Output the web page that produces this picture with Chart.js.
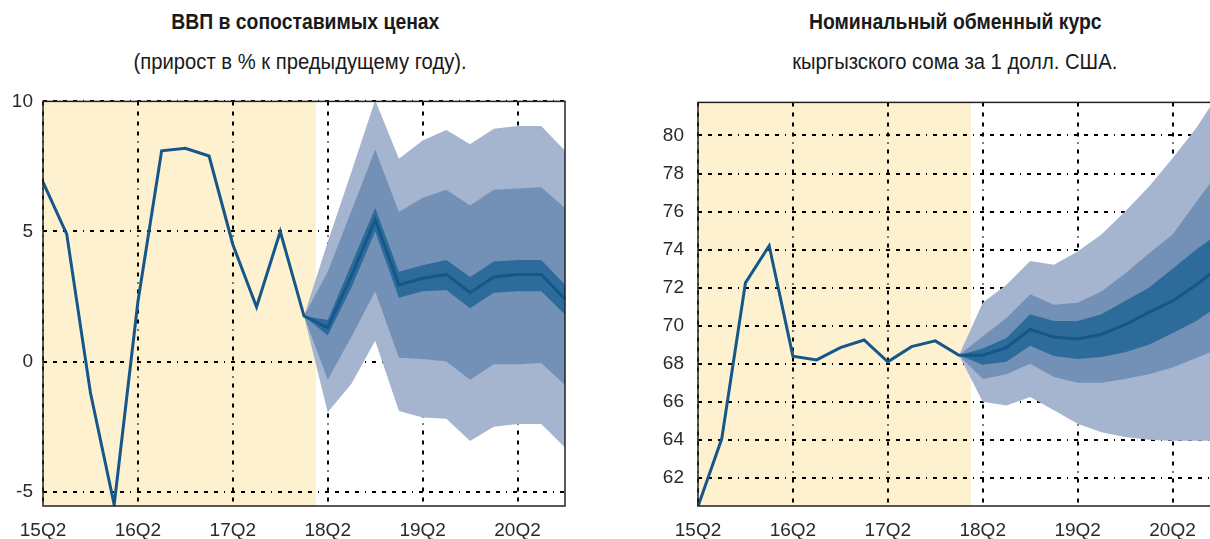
<!DOCTYPE html>
<html>
<head>
<meta charset="utf-8">
<script src="https://cdn.jsdelivr.net/npm/chart.js@4.4.1/dist/chart.umd.min.js"></script>
<style>
    body { margin: 0; width: 1210px; height: 539px; overflow: hidden; background: #fff; position: relative; }
    .ttl { position: absolute; width: 600px; text-align: center; color: #1a1a1a;
           font-family: "Liberation Sans", Arial, sans-serif; font-size: 22px; line-height: 26px; }
    .ttl span { display: inline-block; transform-origin: center; white-space: nowrap; }
    .ttl b { font-weight: bold; }
    .main span { transform: scaleX(0.88); }
    .sub span { transform: scaleX(0.92); }
    .box { position: absolute; }
</style>
</head>
<body>
<div class="ttl main" style="left:5px; top:9px;"><span><b>ВВП в сопоставимых ценах</b></span></div>
<div class="ttl sub" style="left:0px; top:49px;"><span>(прирост в % к предыдущему году).</span></div>
<div class="ttl main" style="left:655px; top:9px;"><span><b>Номинальный обменный курс</b></span></div>
<div class="ttl sub" style="left:655px; top:49px;"><span>кыргызского сома за 1 долл. США.</span></div>

<div class="box" style="left:0px; top:80px;"><canvas id="gdpChart" width="580" height="459"></canvas></div>
<div class="box" style="left:640px; top:77px;"><canvas id="fxChart" width="600" height="462"></canvas></div>

<script>
var quarters = ['15Q2', '15Q3', '15Q4', '16Q1', '16Q2', '16Q3', '16Q4', '17Q1', '17Q2', '17Q3', '17Q4', '18Q1',
    '18Q2', '18Q3', '18Q4', '19Q1', '19Q2', '19Q3', '19Q4', '20Q1', '20Q2', '20Q3', '20Q4'];
var lastFact = 11; // 18Q1 - last actual quarter, forecast fan starts here

// ВВП, % г/г
var gdpLine = [6.9, 4.9, -1.2, -5.5, 2.3, 8.1, 8.2, 7.9, 4.5, 2.1, 5.0, 1.75,
    1.3, 3.3, 5.45, 2.95, 3.2, 3.35, 2.65, 3.25, 3.35, 3.35, 2.4];
var gdpTicks = [-5, 0, 5, 10];
// fan bands 18Q1..20Q4
var gdpInnerHi = [1.75, 1.6, 3.75, 5.9, 3.45, 3.7, 3.9, 3.25, 3.85, 3.9, 3.9, 2.95];
var gdpInnerLo = [1.75, 1.0, 2.85, 5.0, 2.45, 2.7, 2.75, 2.05, 2.65, 2.7, 2.7, 1.8];
var gdpMidHi = [1.75, 3.45, 5.8, 8.15, 5.75, 6.3, 6.6, 6.0, 6.6, 6.65, 6.7, 5.9];
var gdpMidLo = [1.75, -0.7, 0.95, 2.7, 0.15, 0.1, 0.0, -0.7, -0.1, -0.1, -0.05, -0.9];
var gdpOuterHi = [1.75, 4.6, 7.3, 10.05, 7.8, 8.5, 8.9, 8.35, 8.95, 9.05, 9.05, 8.1];
var gdpOuterLo = [1.75, -1.95, -0.85, 0.8, -1.9, -2.15, -2.2, -3.05, -2.5, -2.4, -2.4, -3.3];

// курс сом/долл.
var fxLine = [60.5, 64.05, 72.25, 74.2, 68.4, 68.2, 68.85, 69.25, 68.1, 68.9, 69.2, 68.45,
    68.45, 68.85, 69.8, 69.4, 69.3, 69.55, 70.05, 70.7, 71.3, 72.15, 73.1];
var fxTicks = [62, 64, 66, 68, 70, 72, 74, 76, 78, 80];
var fxInnerHi = [68.45, 68.8, 69.35, 70.6, 70.25, 70.25, 70.6, 71.3, 72.0, 73.0, 74.0, 74.9];
var fxInnerLo = [68.45, 67.95, 68.1, 68.95, 68.4, 68.25, 68.35, 68.6, 69.0, 69.6, 70.25, 71.1];
var fxMidHi = [68.45, 69.45, 70.4, 71.65, 71.1, 71.2, 71.8, 72.75, 73.8, 74.8, 76.5, 78.2];
var fxMidLo = [68.45, 67.2, 67.45, 68.0, 67.3, 67.0, 67.0, 67.2, 67.45, 67.8, 68.3, 68.8];
var fxOuterHi = [68.45, 71.2, 72.15, 73.4, 73.2, 73.9, 74.8, 76.0, 77.3, 78.8, 80.4, 82.3];
var fxOuterLo = [68.45, 66.0, 65.8, 66.25, 65.55, 64.85, 64.4, 64.15, 64.0, 63.95, 63.95, 63.95];

var lightBlue = '#a5b5d0', midBlue = '#7391b7', darkBlue = '#2d6b9b', lineBlue = '#15578a';

function pad(arr) {
    // put fan values on the quarter axis, empty before 18Q1
    var out = [];
    for (var i = 0; i < lastFact; i++) out.push(null);
    return out.concat(arr);
}

function band(data, color, fillIt) {
    return {
        data: pad(data),
        borderColor: 'transparent',
        borderWidth: 0,
        backgroundColor: color,
        pointRadius: 0,
        fill: fillIt ? '+1' : false
    };
}

// yellow "history" area + frame around the plot
var framePlugin = {
    id: 'frame',
    beforeDraw: function (chart) {
        var a = chart.chartArea, x = chart.scales.x, c = chart.ctx;
        var edge = (x.getPixelForValue(lastFact) + x.getPixelForValue(lastFact + 1)) / 2;
        c.save();
        c.fillStyle = '#fdf1cf';
        c.fillRect(a.left, a.top, edge - a.left, a.bottom - a.top);
        c.restore();
    },
    afterDraw: function (chart) {
        var a = chart.chartArea, c = chart.ctx;
        c.save();
        c.strokeStyle = '#222';
        c.lineWidth = 1.5;
        c.strokeRect(a.left, a.top, a.right - a.left, a.bottom - a.top);
        c.restore();
    }
};

function makeChart(id, line, ticks, lo, hi, bands, yWidth, yPad, padRight) {
    var gridDash = [4, 6, 4, 6, 4, 6, 4, 6, 1, 6];
    var tickFont = { family: 'Liberation Sans, Arial, sans-serif', size: 19 };
    new Chart(document.getElementById(id), {
        type: 'line',
        data: {
            labels: quarters,
            datasets: [
                { data: line, borderColor: lineBlue, borderWidth: 3, pointRadius: 0, fill: false, tension: 0 },
                band(bands[0], darkBlue, true), band(bands[1], darkBlue, false),
                band(bands[2], midBlue, true), band(bands[3], midBlue, false),
                band(bands[4], lightBlue, true), band(bands[5], lightBlue, false)
            ]
        },
        options: {
            responsive: false,
            animation: false,
            layout: { padding: { top: 0, right: padRight, left: 0, bottom: 0 } },
            plugins: { legend: { display: false }, tooltip: { enabled: false } },
            scales: {
                x: {
                    z: 1,
                    offset: false,
                    afterFit: function (s) { s.height = 33; },
                    border: { display: false, dash: gridDash },
                    grid: {
                        drawTicks: false,
                        lineWidth: 2,
                        color: function (ctx) { return (ctx.index % 4 === 0) ? '#000' : 'transparent'; }
                    },
                    ticks: {
                        autoSkip: false, maxRotation: 0, padding: 13, color: '#2a2a2a', font: tickFont,
                        callback: function (v, i) { return quarters[i].endsWith('Q2') ? quarters[i] : ''; }
                    }
                },
                y: {
                    z: 1,
                    min: lo, max: hi,
                    afterFit: function (s) { s.width = yWidth; },
                    afterBuildTicks: function (s) { s.ticks = ticks.map(function (v) { return { value: v }; }); },
                    border: { display: false, dash: gridDash },
                    grid: { drawTicks: false, lineWidth: 2, color: '#000' },
                    ticks: { padding: yPad, color: '#2a2a2a', font: tickFont }
                }
            }
        },
        plugins: [framePlugin]
    });
}

makeChart('gdpChart', gdpLine, gdpTicks, -5.55, 10,
    [gdpInnerHi, gdpInnerLo, gdpMidHi, gdpMidLo, gdpOuterHi, gdpOuterLo], 43, 10, 15);
makeChart('fxChart', fxLine, fxTicks, 60.52, 81.74,
    [fxInnerHi, fxInnerLo, fxMidHi, fxMidLo, fxOuterHi, fxOuterLo], 58, 14, 20);
</script>
</body>
</html>
